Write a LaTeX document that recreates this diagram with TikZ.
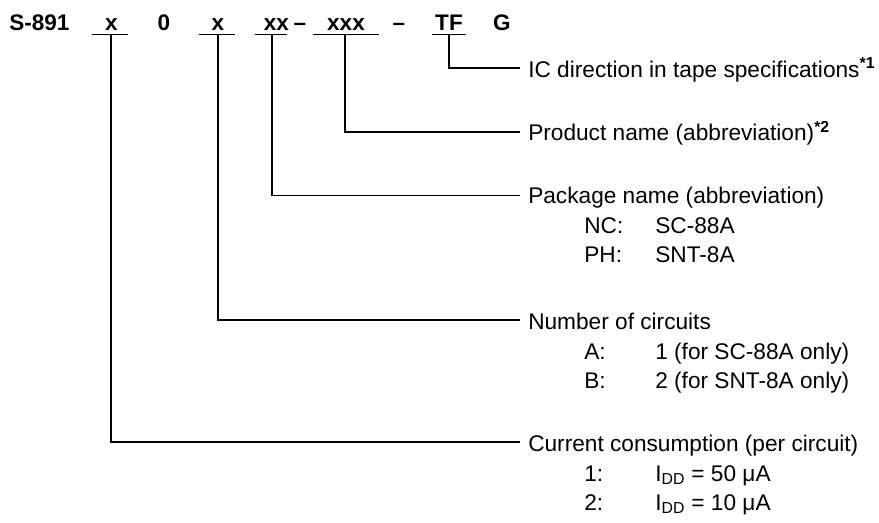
\documentclass[tikz,border=0pt]{standalone}
\usepackage{fontspec}
\setmainfont{Liberation Sans}
\begin{document}
\begin{tikzpicture}[x=0.75pt,y=-0.75pt,
  code/.style={font=\fontsize{16.9}{20}\selectfont\bfseries, inner sep=0pt, anchor=base},
  lbl/.style={font=\fontsize{17}{20}\selectfont, inner sep=0pt, anchor=base west},
  rule/.style={line width=1.2pt, line cap=butt},
  conn/.style={line width=1.2pt, line join=miter}]
\useasboundingbox (0,0) rectangle (879,522);

% code parts
\node[code, anchor=base west] (s891) at (9,30) {S-891};
\node[code] (p1) at (111.5,30) {x};
\node[code] (p0) at (164,30) {0};
\node[code] (p2) at (218,30) {x};
\node[code] (p3) at (276.5,30) {xx};
\node[code] (d1) at (300,30) {–};
\node[code] (p4) at (346,30) {xxx};
\node[code] (d2) at (399,30) {–};
\node[code] (p5) at (449,30) {TF};
\node[code] (p6) at (502,30) {G};

% underlines
\coordinate (u1l) at (92,34.5);  \coordinate (u1r) at (128,34.5); \coordinate (u1) at (111,34.5);
\coordinate (u2l) at (199,34.5); \coordinate (u2r) at (235,34.5); \coordinate (u2) at (218,34.5);
\coordinate (u3l) at (255,34.5); \coordinate (u3r) at (287,34.5); \coordinate (u3) at (272,34.5);
\coordinate (u4l) at (313,34.5); \coordinate (u4r) at (379,34.5); \coordinate (u4) at (345,34.5);
\coordinate (u5l) at (432,34.5); \coordinate (u5r) at (466,34.5); \coordinate (u5) at (449,34.5);
\foreach \i in {1,...,5} {\draw[rule] (u\i l) -- (u\i r);}

% connector ends
\coordinate (e5) at (520,68);
\coordinate (e4) at (520,132);
\coordinate (e3) at (520,195.5);
\coordinate (e2) at (520,320);
\coordinate (e1) at (520,442);

\draw[conn] (u5) |- (e5);
\draw[conn] (u4) |- (e4);
\draw[conn] (u3) |- (e3);
\draw[conn] (u2) |- (e2);
\draw[conn] (u1) |- (e1);

% labels
\node[lbl] (ic) at (528,77) {IC direction in tape specifications\textsuperscript{\bfseries *1}};
\node[lbl] (prod) at (528,140.5) {Product name (abbreviation)\textsuperscript{\bfseries *2}};

\node[lbl] (pkg) at (528,203.5) {Package name (abbreviation)};
\node[lbl] (nc) at (584,233) {NC:};
\node[lbl] (ncv) at (655,233) {SC-88A};
\node[lbl] (ph) at (584,262.5) {PH:};
\node[lbl] (phv) at (655,262.5) {SNT-8A};

\node[lbl] (num) at (528,329) {Number of circuits};
\node[lbl] (na) at (584,359) {A:};
\node[lbl] (nav) at (655,359) {1 (for SC-88A only)};
\node[lbl] (nb) at (584,388.5) {B:};
\node[lbl] (nbv) at (655,388.5) {2 (for SNT-8A only)};

\node[lbl] (cur) at (528,451) {Current consumption (per circuit)};
\node[lbl] (c1) at (584,481) {1:};
\node[lbl] (c1v) at (655,481) {I\textsubscript{DD} = 50 μA};
\node[lbl] (c2) at (584,510.5) {2:};
\node[lbl] (c2v) at (655,510.5) {I\textsubscript{DD} = 10 μA};
\end{tikzpicture}
\end{document}
